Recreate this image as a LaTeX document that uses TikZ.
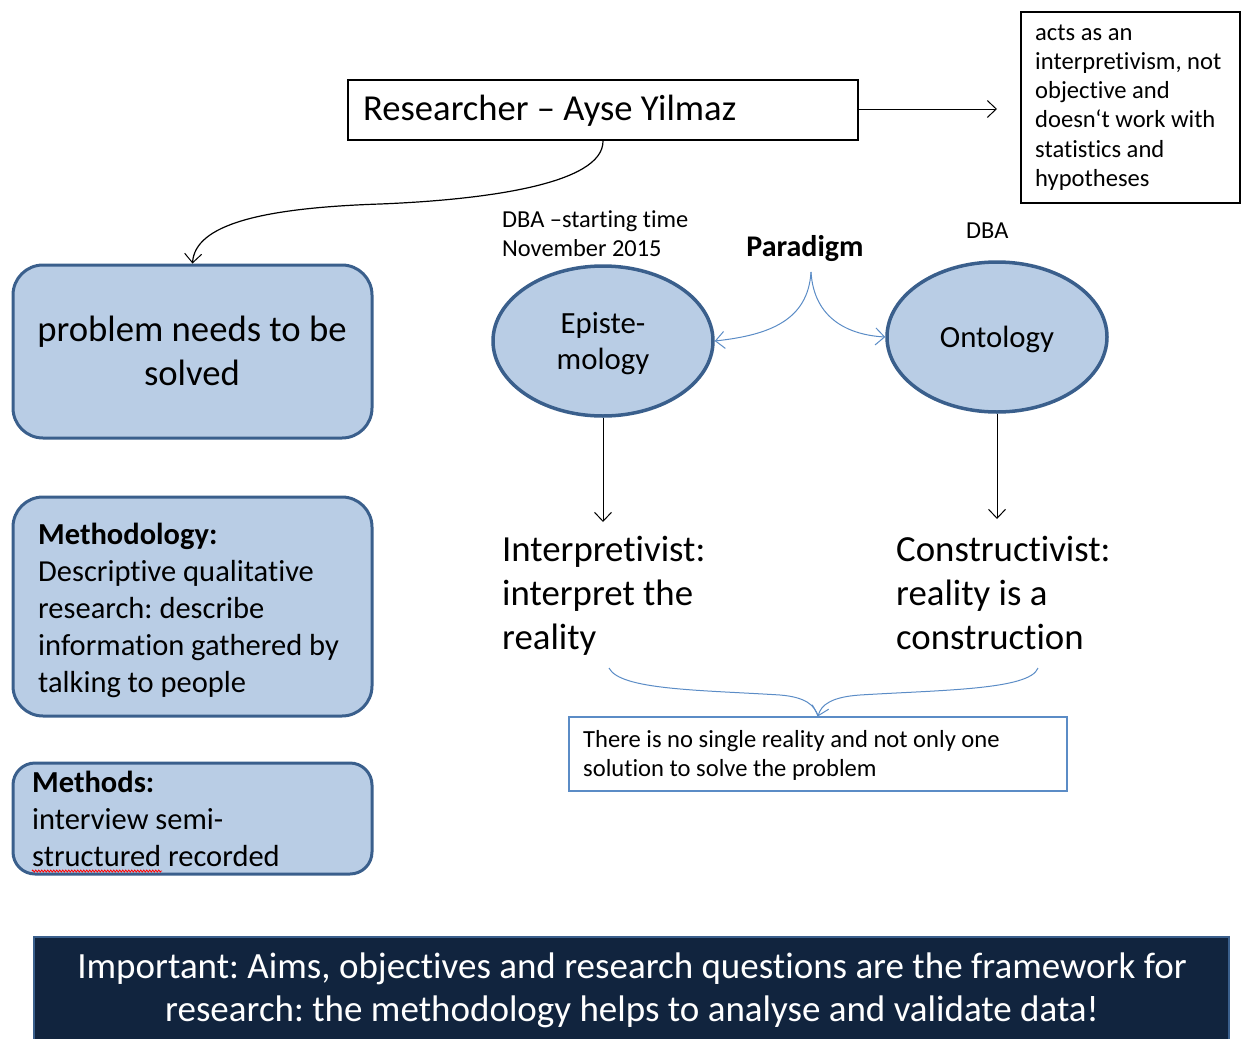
\documentclass[tikz,border=0pt]{standalone}
\usepackage{fontspec}
\setmainfont{Carlito}[Ligatures=NoCommon]
\usetikzlibrary{arrows.meta,shapes.geometric,decorations.pathmorphing}
\definecolor{boxfill}{HTML}{B9CDE5}
\definecolor{boxline}{HTML}{3A5F8C}
\definecolor{arrowblue}{HTML}{5B8CC6}
\definecolor{navy}{HTML}{11243E}
\newcommand{\fs}[2]{\fontsize{#1}{#2}\selectfont}
\newcommand{\lt}[1]{\begin{tabular}[t]{@{}l@{}}#1\end{tabular}}
\newcommand{\ct}[1]{\begin{tabular}[t]{@{}c@{}}#1\end{tabular}}
\frenchspacing
\tikzset{
  bluebox/.style={draw=boxline, fill=boxfill, line width=3pt, rounded corners=30pt, inner sep=0pt},
  blueell/.style={ellipse, draw=boxline, fill=boxfill, line width=3.5pt, minimum width=220pt, minimum height=150pt, inner sep=0pt},
  plainbox/.style={draw=black, line width=1.3pt, inner sep=0pt},
  txt/.style={inner sep=0pt, anchor=base west},
  ctxt/.style={inner sep=0pt, anchor=base},
  conn/.style={line width=1pt, -{Straight Barb[length=9pt,width=17pt,line width=1pt]}},
  bconn/.style={draw=arrowblue, line width=1pt, -{Straight Barb[length=9pt,width=17pt,line width=1pt]}}
}
\begin{document}
\begin{tikzpicture}[x=1pt,y=-1pt]
\useasboundingbox (0,0) rectangle (1248,1039);
% researcher
\node[plainbox, minimum width=510pt, minimum height=60pt] (res) at (603,110) {};
\node[txt] (restxt) at (363,120) {\fs{36.6}{40}Researcher -- Ayse Yilmaz};
\coordinate (resout) at (997,109);
\draw[conn] (res.east |- resout) -- (resout);
% acts box
\node[plainbox, minimum width=219pt, minimum height=191pt] (acts) at (1130.5,107.5) {};
\node[txt] (actstxt) at (1035,40) {\fs{24.6}{29.3}\lt{acts as an\\interpretivism, not\\objective and\\doesn‘t work with\\statistics and\\hypotheses}};
% left boxes
\node[bluebox, minimum width=359pt, minimum height=173pt] (prob) at (192.5,351.5) {};
\node[ctxt] (probtxt) at (192,341) {\fs{36.7}{44}\ct{problem needs to be\\solved}};
\node[bluebox, minimum width=359pt, minimum height=219pt] (meth) at (192.5,606.5) {};
\node[txt] (methtxt) at (38,544) {\fs{30.5}{37}\lt{\textbf{Methodology:}\\Descriptive qualitative\\research: describe\\information gathered by\\talking to people}};
\node[bluebox, rounded corners=22pt, minimum width=359pt, minimum height=111pt] (mths) at (192.5,818.5) {};
\node[txt] (mthstxt) at (32,792) {\fs{30.5}{37}\lt{\textbf{Methods:}\\interview semi-\\structured recorded}};
\draw[red, line width=0.8pt, decorate, decoration={zigzag, segment length=3pt, amplitude=1pt}] (32,871) -- (162,871);
% curve researcher -> problem
\draw[conn, line width=1.2pt] (res.south) .. controls (604,185) and (480,200) .. (380,204) .. controls (260,208) and (195,225) .. (prob.north);
% labels
\node[txt] (dba1) at (502,227) {\fs{24.4}{29}\lt{DBA –starting time\\November 2015}};
\node[ctxt] (para) at (805,256) {\fs{30}{30}\textbf{Paradigm}};
\node[txt] (dba2) at (966,238) {\fs{24.4}{29}DBA};
% ellipses
\node[blueell] (epi) at (603,341) {};
\node[ctxt] (epitxt) at (603,333) {\fs{30.8}{36}\ct{Episte-\\mology}};
\node[blueell] (ont) at (997,337) {};
\node[ctxt] (onttxt) at (997,347) {\fs{30.8}{36}Ontology};
% paradigm arrows
\coordinate (pstart) at (811,272);
\draw[bconn] (pstart) .. controls (808,320) and (770,335) .. (epi.east);
\draw[bconn] (pstart) .. controls (814,320) and (850,335) .. (ont.west);
% down arrows
\coordinate (epiend) at (603,522);
\coordinate (ontend) at (997,519);
\draw[conn] (epi.south) -- (epiend);
\draw[conn] (ont.south) -- (ontend);
\node[txt] (interp) at (502,561) {\fs{36.8}{44}\lt{Interpretivist:\\interpret the\\reality}};
\node[txt] (constr) at (896,561) {\fs{36.8}{44}\lt{Constructivist:\\reality is a\\construction}};
% conclusion box
\node[draw=arrowblue, line width=1.2pt, inner sep=0pt, minimum width=498pt, minimum height=74pt] (concl) at (818,754) {};
\node[txt] (concltxt) at (583,747) {\fs{24.6}{29}\lt{There is no single reality and not only one\\solution to solve the problem}};
\coordinate (bl) at (609,668);
\coordinate (br) at (1038,668);
\draw[draw=arrowblue, line width=1pt] (bl) .. controls (620,690) and (700,690) .. (780,695) .. controls (805,697) and (815,705) .. (concl.north);
\draw[bconn] (br) .. controls (1030,690) and (940,690) .. (860,695) .. controls (831,697) and (821,705) .. (concl.north);
% important box
\node[draw=boxline, fill=navy, line width=2.5pt, inner sep=0pt, minimum width=1195pt, minimum height=120pt] (imp) at (631.5,997) {};
\node[ctxt, text=white] (imptxt) at (632,978) {\fs{37}{43}\ct{Important: Aims, objectives and research questions are the framework for\\research: the methodology helps to analyse and validate data!}};
\end{tikzpicture}
\end{document}
